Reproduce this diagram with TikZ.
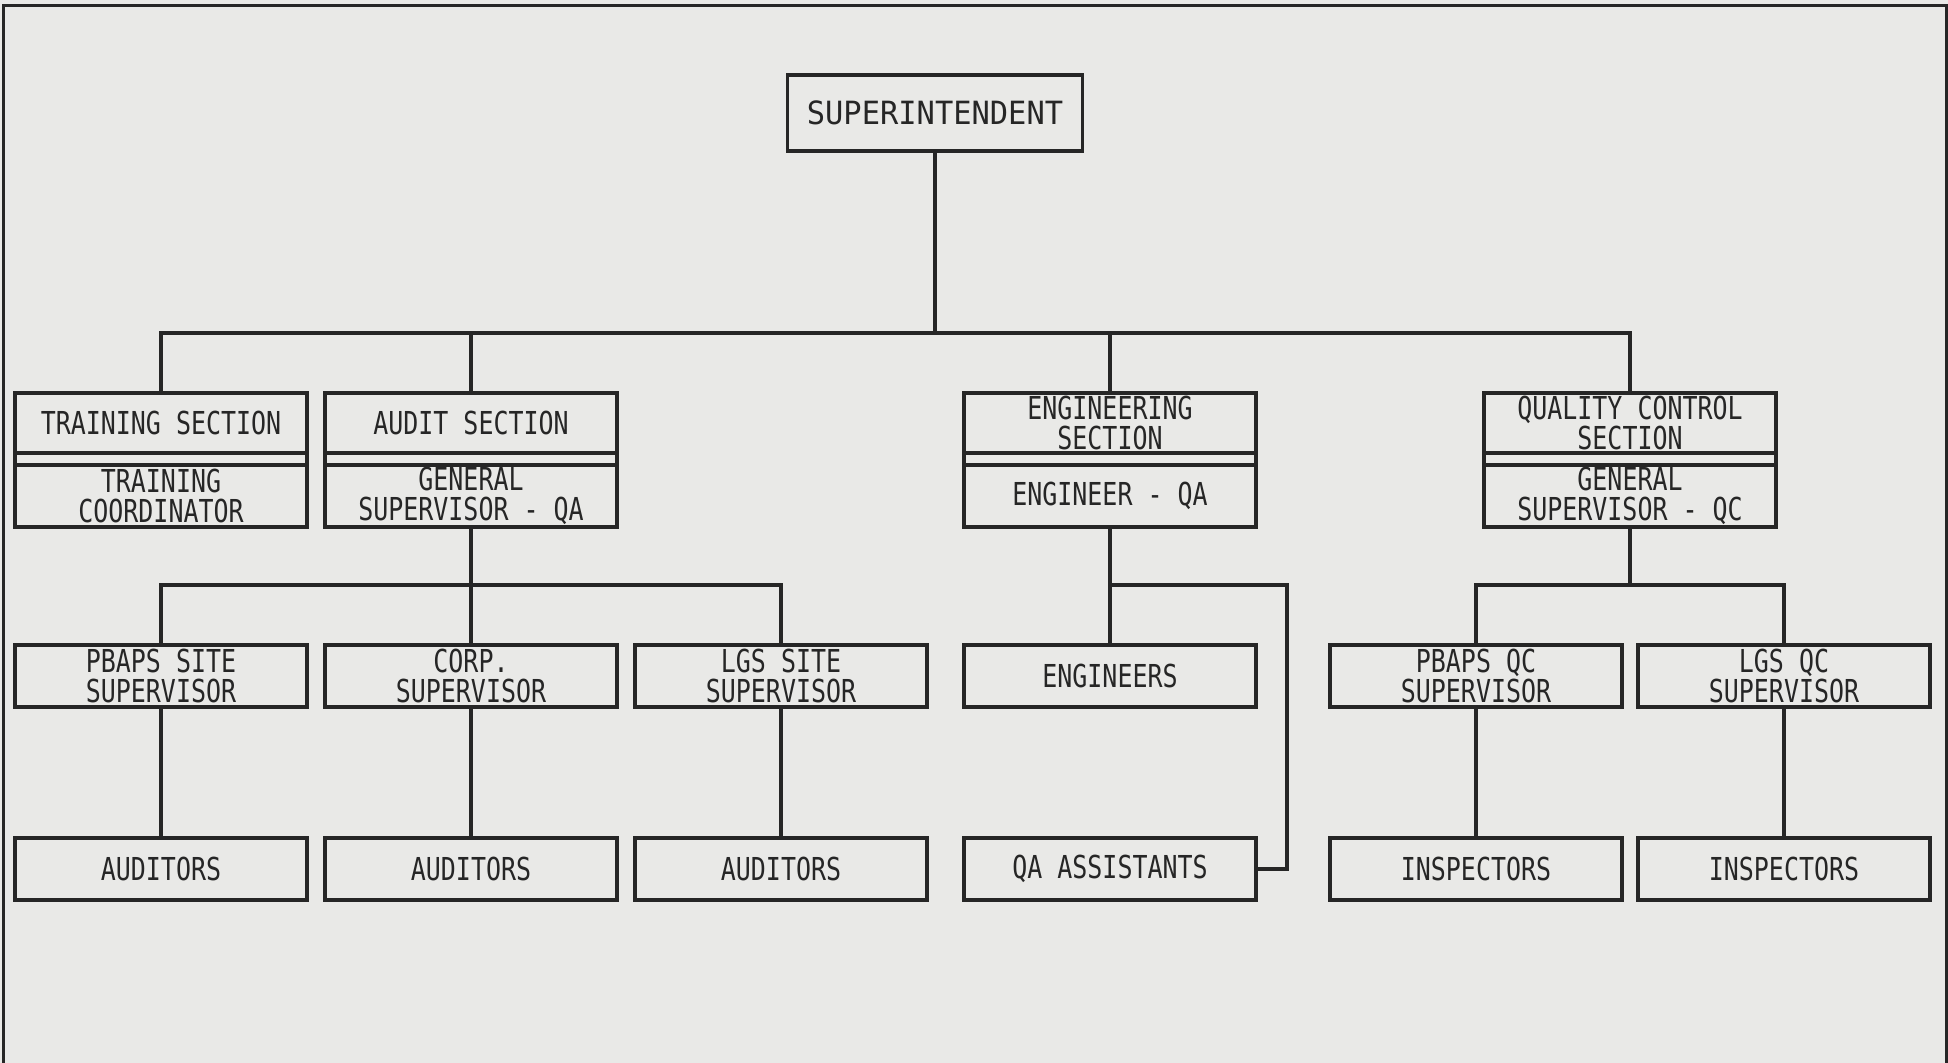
\documentclass[tikz,border=0pt]{standalone}
\usepackage{fontspec}
\usepackage{tikz}
\newfontfamily\chartfont[FakeStretch=0.79]{DejaVu Sans Mono}
\newfontfamily\superfont[FakeStretch=0.95]{DejaVu Sans Mono}
\definecolor{paper}{HTML}{E9E9E7}
\definecolor{ink}{HTML}{262626}

\begin{document}
\begin{tikzpicture}[x=0.5pt, y=-0.5pt,
  every node/.style={rectangle, draw=ink, line width=1.6pt, minimum width=146pt,
    inner sep=0pt, outer sep=0pt, align=center, text=ink,
    font=\chartfont\fontsize{15.8}{15}\selectfont},
  head/.style={minimum height=30pt},
  sub/.style={minimum height=31pt},
  unit/.style={minimum height=31pt},
  link/.style={draw=ink, line width=2pt}
  ]
  \fill[paper] (0,0) rectangle (1948,1063);
  \useasboundingbox (0,0) rectangle (1948,1063);
  \draw[draw=ink, line width=1.5pt] (3,1063) -- (3,6) -- (1946,6) -- (1946,1063);

  \node[minimum width=147.5pt, minimum height=38pt, font=\superfont\fontsize{16}{15}\selectfont]
    (sup) at (935,113) {SUPERINTENDENT};

  \node[head] (train) at (161,423) {TRAINING SECTION};
  \node[sub] (trainsub) at (161,496) {TRAINING\\COORDINATOR};
  \node[head] (audit) at (471,423) {AUDIT SECTION};
  \node[sub] (auditsub) at (471,496) {GENERAL\\SUPERVISOR - QA};
  \node[head] (eng) at (1110,423) {ENGINEERING\\SECTION};
  \node[sub] (engsub) at (1110,496) {ENGINEER - QA};
  \node[head] (qc) at (1630,423) {QUALITY CONTROL\\SECTION};
  \node[sub] (qcsub) at (1630,496) {GENERAL\\SUPERVISOR - QC};

  \foreach \n in {train,audit,eng,qc}
    \draw[draw=ink, line width=1.6pt] (\n.south west) -- (\n sub.north west)
      (\n.south east) -- (\n sub.north east);

  \node[unit] (pbaps) at (161,676) {PBAPS SITE\\SUPERVISOR};
  \node[unit] (corp) at (471,676) {CORP.\\SUPERVISOR};
  \node[unit] (lgs) at (781,676) {LGS SITE\\SUPERVISOR};
  \node[unit] (engineers) at (1110,676) {ENGINEERS};
  \node[unit] (pbapsqc) at (1476,676) {PBAPS QC\\SUPERVISOR};
  \node[unit] (lgsqc) at (1784,676) {LGS QC\\SUPERVISOR};

  \node[unit] (auditorsa) at (161,869) {AUDITORS};
  \node[unit] (auditorsb) at (471,869) {AUDITORS};
  \node[unit] (auditorsc) at (781,869) {AUDITORS};
  \node[unit] (qaasst) at (1110,869) {QA ASSISTANTS};
  \node[unit] (inspa) at (1476,869) {INSPECTORS};
  \node[unit] (inspb) at (1784,869) {INSPECTORS};

  \coordinate (bus) at (935,333);
  \coordinate (abus) at (471,585);
  \coordinate (ebus) at (1110,585);
  \coordinate (eturn) at (1287,585);
  \coordinate (qbus) at (1630,585);

  \draw[link] (sup.south) -- (bus);
  \draw[link] (train.north) |- (bus) -| (qc.north);
  \draw[link] (audit.north) |- (bus);
  \draw[link] (eng.north) |- (bus);

  \draw[link] (auditsub.south) -- (corp.north);
  \draw[link] (pbaps.north) |- (abus) -| (lgs.north);
  \draw[link] (engsub.south) -- (engineers.north);
  \draw[link] (ebus) -- (eturn) |- (qaasst.east);
  \draw[link] (qcsub.south) -- (qbus);
  \draw[link] (pbapsqc.north) |- (qbus) -| (lgsqc.north);

  \draw[link] (pbaps.south) -- (auditorsa.north);
  \draw[link] (corp.south) -- (auditorsb.north);
  \draw[link] (lgs.south) -- (auditorsc.north);
  \draw[link] (pbapsqc.south) -- (inspa.north);
  \draw[link] (lgsqc.south) -- (inspb.north);
\end{tikzpicture}
\end{document}
